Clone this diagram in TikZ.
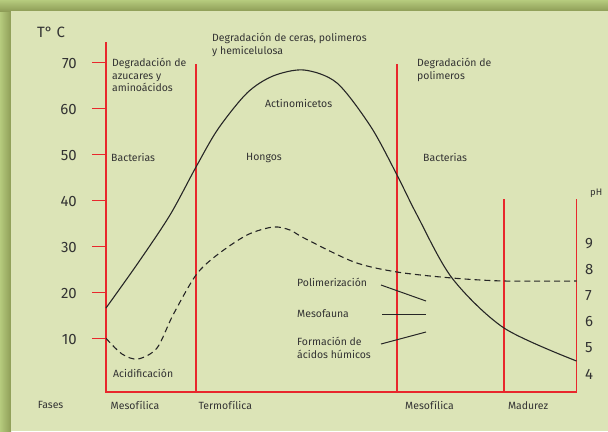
\documentclass[tikz,border=0pt]{standalone}
\usepackage{fontspec}
\setmainfont{Fira Sans}
\usepackage{xcolor}
\usepackage{tikz}
\usetikzlibrary{positioning}
\definecolor{panel}{HTML}{DCE4B7}
\definecolor{frame}{HTML}{B6CB7E}
\definecolor{frameshadow}{HTML}{8E9D57}
\definecolor{axisred}{HTML}{E8272C}
\definecolor{ink}{HTML}{333333}
\tikzstyle{redline} = [axisred, line width=1.3pt]
\tikzstyle{tempcurve} = [black!85, line width=1.1pt]
\tikzstyle{phcurve} = [black!85, line width=1.1pt, dash pattern=on 6pt off 4pt]
\tikzstyle{pointer} = [black!85, line width=1pt]
\tikzstyle{lbl} = [anchor=north west, inner sep=0pt, font=\fontsize{10.5}{12.5}\selectfont, text=ink]
\tikzstyle{num} = [inner sep=0pt, font=\fontsize{15}{17}\selectfont, text=ink]
\tikzset{every node/.style={align=left}}

\begin{document}
\begin{tikzpicture}[x=1bp, y=-1bp]
    \useasboundingbox (0,0) rectangle (608,431);
    % frame and panel
    \fill[frame] (0,0) rectangle (608,431);
    \shade[left color=frame, right color=frameshadow] (0,0) rectangle (11,431);
    \shade[top color=frame, bottom color=frameshadow] (0,0) rectangle (608,11);
    \fill[panel] (11,11) rectangle (608,431);

    % axes and phase separators
    \draw[redline] (106,42) -- (106,392) -- (576.5,392) -- (576.5,199);
    \draw[redline] (196,64) -- (196,392);
    \draw[redline] (397,64) -- (397,392);
    \draw[redline] (504,199) -- (504,392);

    % temperature scale
    \draw[redline] (92,62.3) -- (106,62.3);
    \draw[redline] (92,108.3) -- (106,108.3);
    \draw[redline] (92,154.3) -- (106,154.3);
    \draw[redline] (92,200.3) -- (106,200.3);
    \draw[redline] (92,246.3) -- (106,246.3);
    \draw[redline] (92,292.3) -- (106,292.3);
    \draw[redline] (92,338.3) -- (106,338.3);
    \node (tunit) [num, anchor=west] at (37,32) {T° C};
    \node (t70) [num, anchor=east] at (77,63.3) {70};
    \node (t60) [num, anchor=east] at (77,109.3) {60};
    \node (t50) [num, anchor=east] at (77,155.3) {50};
    \node (t40) [num, anchor=east] at (77,201.3) {40};
    \node (t30) [num, anchor=east] at (77,247.3) {30};
    \node (t20) [num, anchor=east] at (77,293.3) {20};
    \node (t10) [num, anchor=east] at (77,339.3) {10};

    % pH scale
    \node (phunit) [lbl, anchor=west, font=\fontsize{9.5}{11}\selectfont] at (590,193) {pH};
    \node (ph9) [num, anchor=west] at (585,244) {9};
    \node (ph8) [num, anchor=west] at (585,270) {8};
    \node (ph7) [num, anchor=west] at (585,296) {7};
    \node (ph6) [num, anchor=west] at (585,322) {6};
    \node (ph5) [num, anchor=west] at (585,348) {5};
    \node (ph4) [num, anchor=west] at (585,374) {4};

    % curves
    \draw[tempcurve] plot[smooth] coordinates {(106,308) (138,263) (170,215) (196,167) (218,129) (247,93) (273,76) (304,70) (337,83) (371,127) (397,175) (417,215) (452,278) (504,328) (576.5,361)};
    \draw[phcurve] plot[smooth] coordinates {(106,338.3) (122,354) (138,359) (157,348) (173,315) (196,275) (217,255) (247,235) (273,227) (290,230) (304,238) (354,262) (397,272) (452,278) (504,281) (576.5,281)};

    % stage texts
    \node (sugars) [lbl] at (112,58) {Degradación de\\azucares y\\aminoácidos};
    \node (waxes) [lbl] at (212,33) {Degradación de ceras, polimeros\\y hemicelulosa};
    \node (polymers) [lbl] at (417,58) {Degradación de\\polimeros};
    \node (actino) [lbl] at (265,99) {Actinomicetos};
    \node (bact1) [lbl] at (111,153) {Bacterias};
    \node (fungi) [lbl] at (246,153) {Hongos};
    \node (bact2) [lbl] at (423,153) {Bacterias};
    \node (acid) [lbl] at (113,369) {Acidificación};
    \node (polym) [lbl] at (297,278) {Polimerización};
    \node (fauna) [lbl] at (297,309) {Mesofauna};
    \node (humic) [lbl] at (297,337) {Formación de\\ácidos húmicos};

    % pointers
    \coordinate (polymA) at (381,285);
    \coordinate (polymB) at (426,301);
    \coordinate (faunaA) at (382,314);
    \coordinate (faunaB) at (426,314);
    \coordinate (humicA) at (381,344);
    \coordinate (humicB) at (426,332);
    \draw[pointer] (polymA) -- (polymB);
    \draw[pointer] (faunaA) -- (faunaB);
    \draw[pointer] (humicA) -- (humicB);

    % phases
    \node (phases) [lbl] at (37.6,401) {Fases};
    \node (meso1) [lbl] at (110.5,401) {Mesofílica};
    \node (thermo) [lbl] at (198.4,401) {Termofílica};
    \node (meso2) [lbl] at (405,401) {Mesofílica};
    \node (mature) [lbl] at (507.8,401) {Madurez};
\end{tikzpicture}
\end{document}
